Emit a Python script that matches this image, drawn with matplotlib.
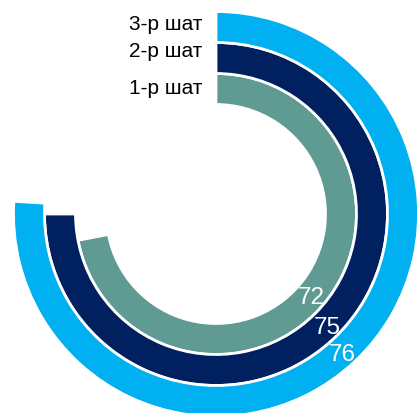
import numpy as np
import matplotlib
matplotlib.use("Agg")
import matplotlib.pyplot as plt

stages = ['1-р шат', '2-р шат', '3-р шат']
values = [72, 75, 76]
colors = ['#5F9A93', '#002060', '#00B0F0']

W, H = 419, 414
dpi = 100
fig = plt.figure(figsize=(W / dpi, H / dpi), dpi=dpi)
cx, cy = 216, 215  # center in px (from top)
R = 204
ax = fig.add_axes([(cx - R) / W, (H - cy - R) / H, 2 * R / W, 2 * R / H], projection='polar')
ax.set_theta_zero_location('N')
ax.set_theta_direction(-1)
ax.set_rlim(0, R)
ax.axis('off')

bottoms = [109.5, 140.5, 171.5]
height = 31
for v, b, c in zip(values, bottoms, colors):
    ax.bar(0, height, width=np.deg2rad(v * 3.6), bottom=b, align='edge',
           color=c, edgecolor='white', linewidth=2)

fam = ['Liberation Sans', 'DejaVu Sans']

# stage labels at the top, right-aligned to the start of rings
label_r = [126.7, 163.7, 190.4]
for s, r in zip(stages, label_r):
    ax.annotate(s, xy=(0, r), xytext=(-14 * 72 / dpi, 0), textcoords='offset points',
                ha='right', va='center', fontsize=15, color='black', family=fam)

# value labels
val_pos = [(131.3, 126.5), (135.3, 158.4), (138.1, 188.7)]
for v, (ang, r) in zip(values, val_pos):
    ax.text(np.deg2rad(ang), r, str(v), ha='center', va='center', fontsize=17.5,
            color='white', family=fam)

fig.savefig('out.png', dpi=dpi)
